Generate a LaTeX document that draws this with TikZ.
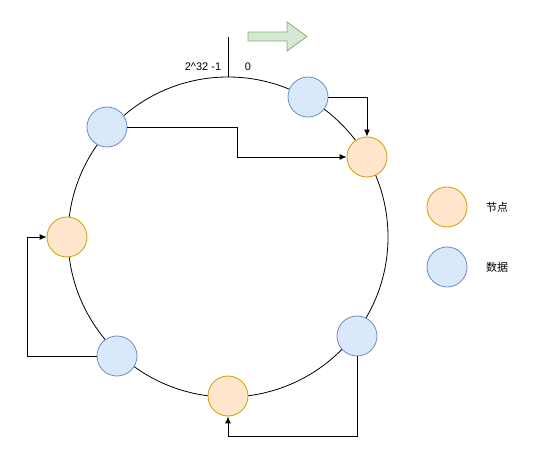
\documentclass[tikz,border=0pt]{standalone}
\usepackage{fontspec}
\setmainfont{Liberation Sans}
\newfontfamily\cjk{Noto Sans CJK SC}
\usetikzlibrary{arrows.meta}
\definecolor{nodefill}{HTML}{FFE6CC}
\definecolor{nodeline}{HTML}{D79B00}
\definecolor{datafill}{HTML}{DAE8FC}
\definecolor{dataline}{HTML}{6C8EBF}
\definecolor{dirfill}{HTML}{D5E8D4}
\definecolor{dirline}{HTML}{82B366}
\tikzset{
  x=1pt, y=-1pt,
  ringnode/.style={circle, draw=nodeline, fill=nodefill, minimum size=40pt, inner sep=0pt, line width=0.8pt},
  datanode/.style={circle, draw=dataline, fill=datafill, minimum size=40pt, inner sep=0pt, line width=0.8pt},
  link/.style={draw=black, line width=0.9pt, -{Latex[length=7pt,width=6pt]}},
  lbl/.style={font=\fontsize{11pt}{13pt}\selectfont, inner sep=0pt},
}
\begin{document}
\begin{tikzpicture}
\useasboundingbox (0,0) rectangle (538,465);
\fill[white] (0,0) rectangle (538,465);

% hash ring
\draw[line width=0.8pt] (228,237) circle[radius=160pt];
\draw[line width=0.8pt] (228,37) coordinate (tickTop) -- (228,77) coordinate (tickBot);
\node[lbl] (maxlbl) at (203,67) {2\textasciicircum 32 -1};
\node[lbl] (zerolbl) at (248,67) {0};

% direction arrow
\draw[draw=dirline, fill=dirfill, line width=0.8pt]
  (248,32) -- (287,32) -- (287,22) -- (307,36.5) -- (287,51) -- (287,41) -- (248,41) -- cycle;

% storage nodes
\node[ringnode] (n1) at (367,157) {};
\node[ringnode] (n2) at (67,237) {};
\node[ringnode] (n3) at (228,396) {};

% data items
\node[datanode] (d1) at (308,97) {};
\node[datanode] (d2) at (107,127) {};
\node[datanode] (d3) at (357,336) {};
\node[datanode] (d4) at (117,356) {};

% data mapped clockwise to the next node
\draw[link] (d1.east) -| (n1.north);
\draw[link] (d2.east) -- (237,127) -- (237,157) -- (n1.west);
\draw[link] (d4.west) -- (27,356) -- (27,237) -- (n2.west);
\draw[link] (d3.south) -- (357,436) -- (228,436) -- (n3.south);

% legend
\node[ringnode] (legN) at (447,207) {};
\node[datanode] (legD) at (447,267) {};
\node[lbl, anchor=west] (legNt) at (486,207) {\cjk 节点};
\node[lbl, anchor=west] (legDt) at (486,267) {\cjk 数据};
\end{tikzpicture}
\end{document}
